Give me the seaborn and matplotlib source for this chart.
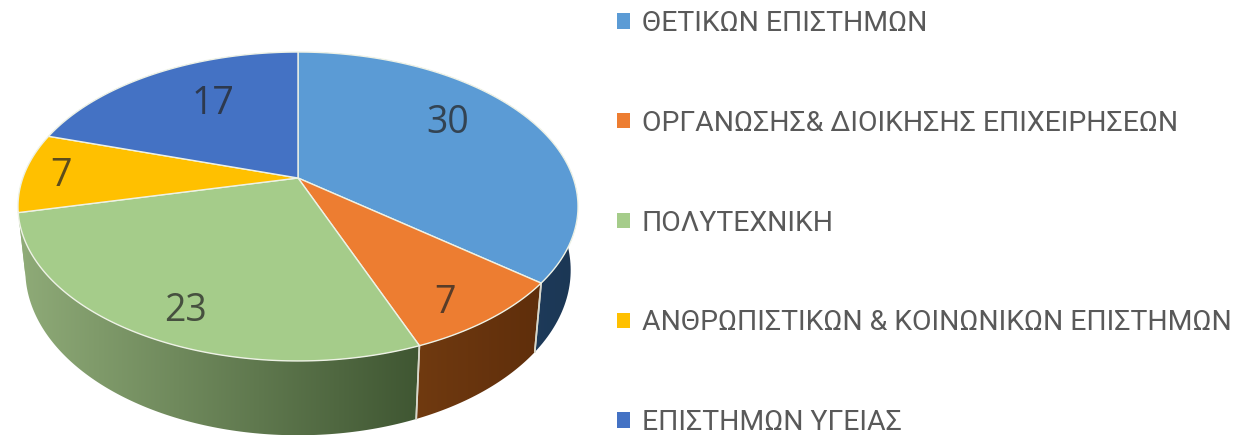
import numpy as np
import matplotlib
matplotlib.use("Agg")
import matplotlib.pyplot as plt
from matplotlib.patches import Patch, Polygon
import seaborn as sns

# data
categories = ["ΘΕΤΙΚΩΝ ΕΠΙΣΤΗΜΩΝ", "ΟΡΓΑΝΩΣΗΣ& ΔΙΟΙΚΗΣΗΣ ΕΠΙΧΕΙΡΗΣΕΩΝ", "ΠΟΛΥΤΕΧΝΙΚΗ",
              "ΑΝΘΡΩΠΙΣΤΙΚΩΝ & ΚΟΙΝΩΝΙΚΩΝ ΕΠΙΣΤΗΜΩΝ", "ΕΠΙΣΤΗΜΩΝ ΥΓΕΙΑΣ"]
values = [30, 7, 23, 7, 17]

top_colors = ["#5b9bd5", "#ed7d31", "#a5cc8a", "#ffc000", "#4472c4"]
side_colors = [("#2b5478", "#1b3654"), ("#703a10", "#5f2e0b"), ("#8fab78", "#3f5632"),
               ("#8fab78", "#8fab78"), ("#2a4a80", "#2a4a80")]
label_pos = [(448, 123), (445, 303), (186, 311), (61, 176), (213, 104)]

sns.set_theme(style="white")
plt.rcParams['font.family'] = ['Roboto', 'DejaVu Sans']

fig = plt.figure(figsize=(12.47, 4.36), dpi=100)
ax = fig.add_axes([0, 0, 1, 1])

# the pie gives the slice angles, the tilted faces are drawn from them
wedges, _ = ax.pie(values, startangle=90, counterclock=False)

K = 0.1845


def face(theta, cx, cy, bx, ay):
    t = np.radians(theta)
    w = 1 + K * np.sin(t)
    return np.column_stack([cx + bx * np.cos(t) / w, cy - ay * np.sin(t) / w])


def top(theta):
    return face(theta, 298, 178, 275.2, 149.2)


def bottom(theta):
    return face(theta, 298, 239.7, 268, 159.5)


grad = np.linspace(0, 1, 256)[None, :]

# side wall first, top face over it
for w, c, s in zip(wedges, top_colors, side_colors):
    w.set_visible(False)
    th = np.linspace(w.theta1, w.theta2, 120)
    wall = np.vstack([top(th), bottom(th)[::-1]])
    cmap = sns.blend_palette(list(s), as_cmap=True)
    im = ax.imshow(grad, extent=(wall[:, 0].min(), wall[:, 0].max(), wall[:, 1].max(), wall[:, 1].min()),
                   aspect='auto', cmap=cmap, zorder=1)
    im.set_clip_path(Polygon(wall, transform=ax.transData))

for w in wedges:
    for a in (w.theta1, w.theta2):
        if np.sin(np.radians(a)) < -0.3:
            seam = np.vstack([top(np.array([a])), bottom(np.array([a]))])
            ax.plot(seam[:, 0], seam[:, 1], color="#d8d8cc", lw=1.2, zorder=2)

for w, c in zip(wedges, top_colors):
    th = np.linspace(w.theta1, w.theta2, 120)
    pts = np.vstack([[298, 178], top(th)])
    ax.fill(pts[:, 0], pts[:, 1], facecolor=c, edgecolor="#eef2e6", lw=1.0, zorder=3)

for v, (x, y) in zip(values, label_pos):
    ax.text(x, y, str(v), ha="center", va="center", fontsize=27, color="#262626", alpha=0.75,
            family=['Open Sans', 'DejaVu Sans'], zorder=4)

handles = [Patch(facecolor=c, edgecolor="none") for c in top_colors]
ax.legend(handles, categories, loc="upper left", bbox_to_anchor=(617, 10), bbox_transform=ax.transData,
          frameon=False, fontsize=20.4, labelcolor="#595959", handlelength=0.46, handleheight=0.46,
          handletextpad=0.42, labelspacing=2.57, borderaxespad=0, borderpad=0)

ax.set_aspect('auto')
ax.set_xlim(0, 1247)
ax.set_ylim(436, 0)
ax.axis('off')

fig.savefig("out.png", dpi=100, facecolor="white")
